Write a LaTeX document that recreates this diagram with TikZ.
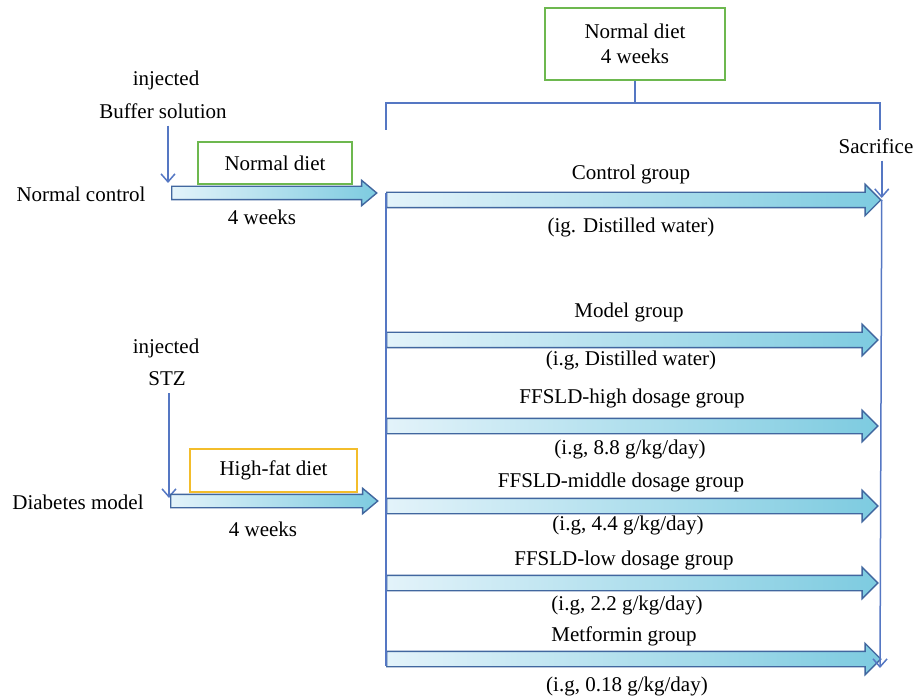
\documentclass[tikz,border=0pt]{standalone}
\usepackage{fontspec}
\setmainfont{Liberation Serif}
\usepackage{tikz}
\usetikzlibrary{shapes.arrows,arrows.meta}
\definecolor{lineblue}{HTML}{5577C3}
\definecolor{arrowedge}{HTML}{41679F}
\definecolor{shadelight}{HTML}{E3F3FA}
\definecolor{shadedark}{HTML}{7DCBE0}
\definecolor{boxgreen}{HTML}{6DB84F}
\definecolor{boxorange}{HTML}{F3BD2B}

\begin{document}
\begin{tikzpicture}[x=0.5pt, y=-0.5pt, font=\fontsize{10.5}{12.5}\selectfont,
    conn/.style={draw=lineblue, line width=0.75pt},
    grouparrow/.style={single arrow, draw=arrowedge, line width=0.7pt, left color=shadelight, right color=shadedark,
        inner sep=3.5pt, single arrow head extend=4pt, anchor=west, minimum height=246pt},
    dietarrow/.style={grouparrow, inner sep=3pt, single arrow head extend=3pt, single arrow tip angle=80},
    dietbox/.style={draw=#1, line width=0.75pt, inner sep=0pt},
    >={Straight Barb[length=4pt,width=7pt]}]
                \useasboundingbox (0,0) rectangle (913,699);

                \node (inj1) at (166,80) {injected};
                \node (buffer) at (163,111) {Buffer solution};
                \coordinate (bufhit) at (168,183);
                \draw[conn, ->] (buffer.south -| bufhit) -- (bufhit);
                \node (normctl) at (81,194) {Normal control};
                \node[dietarrow, minimum height=102.5pt] (ncarrow) at (171,193) {};
                \node[dietbox=boxgreen, minimum width=77pt, minimum height=21pt] (normdiet) at (275,163) {Normal diet};
                \node (weeks1) at (262,217) {4 weeks};

                \node (inj2) at (166,348) {injected};
                \node (stz) at (167,379) {STZ};
                \coordinate (stzhit) at (169,498);
                \draw[conn, ->] (stz.south -| stzhit) -- (stzhit);
                \node (diab) at (78,502) {Diabetes model};
                \node[dietarrow, minimum height=103.5pt] (dmarrow) at (170,501) {};
                \node[dietbox=boxorange, minimum width=83.5pt, minimum height=21.5pt] (hfdiet) at (273.5,470.5) {High-fat diet};
                \node (weeks2) at (263,529) {4 weeks};

                \node[dietbox=boxgreen, minimum width=90pt, minimum height=36pt, align=center] (topdiet) at (635,44) {Normal diet\\4 weeks};
                \coordinate (brtop) at (635,103);
                \coordinate (brL) at (386,130);
                \coordinate (brR) at (880,130);
                \draw[conn] (topdiet) -- (brtop);
                \draw[conn] (brL) |- (brtop) -| (brR);
                \node (sacr) at (876,146) {Sacrifice};

                \node[grouparrow, minimum height=247pt] (ctrl) at (386,200) {};
                \node[grouparrow, minimum height=245.5pt] (model) at (386,340) {};
                \node[grouparrow, minimum height=245.5pt] (high) at (386,426) {};
                \node[grouparrow, minimum height=245.5pt] (mid) at (386,506) {};
                \node[grouparrow, minimum height=245.5pt] (low) at (386,583) {};
                \node[grouparrow, minimum height=247pt] (metf) at (386,659) {};
                \draw[conn, ->, shorten >=1pt] (sacr.south -| ctrl.tip) -- (ctrl.tip);
                \coordinate (endR) at (880,668);
                \draw[conn, ->] (ctrl.tip) -- (endR);
                \draw[conn] ([yshift=3.5pt]ctrl.west) -- ([yshift=-3.5pt]metf.west);

                \node (ctrllab) at (631,174) {Control group};
                \node (ctrlsub) at (631,227) {(ig. Distilled water)};
                \node (modellab) at (629,312) {Model group};
                \node (modelsub) at (631,360) {(i.g, Distilled water)};
                \node (highlab) at (632,398) {FFSLD-high dosage group};
                \node (highsub) at (630,449) {(i.g, 8.8 g/kg/day)};
                \node (midlab) at (621,482) {FFSLD-middle dosage group};
                \node (midsub) at (628,525) {(i.g, 4.4 g/kg/day)};
                \node (lowlab) at (624,560) {FFSLD-low dosage group};
                \node (lowsub) at (627,605) {(i.g, 2.2 g/kg/day)};
                \node (metflab) at (624,636) {Metformin group};
                \node (metfsub) at (627,686) {(i.g, 0.18 g/kg/day)};

            \end{tikzpicture}
\end{document}
